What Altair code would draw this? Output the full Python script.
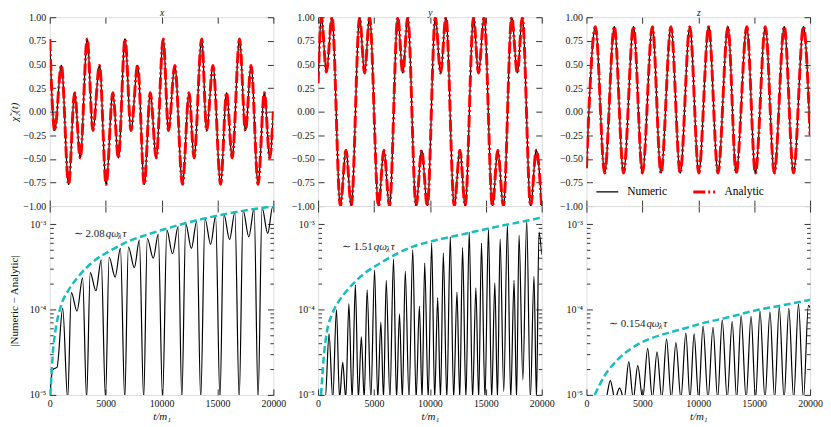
import altair as alt
import pandas as pd

FONT = "Liberation Serif"
W, H = 225, 190
FLOOR = 9e-6          # stands in for an exact zero (just below the visible log range)
CYAN = "#17BEBE"
SERIES = ["Numeric", "Analytic"]

TIME_TICKS = [0, 5000, 10000, 15000, 20000]
TOP_Y_TICKS = [-1.0, -0.75, -0.5, -0.25, 0.0, 0.25, 0.5, 0.75, 1.0]
LOG_MAJOR = [1e-5, 1e-4, 1e-3]
LOG_MINOR = [2e-5, 3e-5, 4e-5, 5e-5, 6e-5, 7e-5, 8e-5, 9e-5,
             2e-4, 3e-4, 4e-4, 5e-4, 6e-4, 7e-4, 8e-4, 9e-4]
COMPONENTS = ["x", "y", "z"]

# ---------------- top row: chi_2(t) (extrema) ----------------
X_TOP_T = [0, 445, 1038, 1691, 2225, 2730, 3353, 3857, 4451, 5044, 5637, 6142,
           6735, 7269, 7863, 8456, 8990, 9524, 10147, 10622, 11186, 11868, 12462, 12906,
           13589, 14034, 14598, 15280, 15814, 16319, 16971, 17505, 18010, 18633, 19196, 19671,
           20000]
X_TOP_V = [0.77, -0.20, 0.49, -0.77, 0.20, -0.49,
           0.77, -0.20, 0.49, -0.77, 0.20, -0.49,
           0.77, -0.20, 0.49, -0.77, 0.20, -0.49,
           0.77, -0.20, 0.49, -0.77, 0.20, -0.49,
           0.77, -0.20, 0.49, -0.77, 0.20, -0.49,
           0.77, -0.20, 0.49, -0.77, 0.20, -0.49,
           0.00]

Y_TOP_T = [0, 297, 743, 1247, 1990, 2495, 2970,
           3713, 4158, 4604, 5405, 5881, 6386,
           7128, 7574, 8019, 8762, 9266, 9771,
           10484, 10959, 11435, 12177, 12682, 13157,
           13900, 14345, 14850, 15593, 16068, 16573,
           17315, 17820, 18266, 19008, 19513, 20000]
Y_TOP_V = [0.30, 1.0, 0.42, 1.0, -1.0, -0.41, -1.0,
           1.0, 0.41, 1.0, -1.0, -0.41, -1.0,
           1.0, 0.41, 1.0, -1.0, -0.41, -1.0,
           1.0, 0.41, 1.0, -1.0, -0.41, -1.0,
           1.0, 0.41, 1.0, -1.0, -0.41, -1.0,
           1.0, 0.41, 1.0, -1.0, -0.41, -1.0]

Z_TOP_T = [0, 800, 1630, 2489, 3319, 4207, 5007, 5896, 6667, 7556, 8385, 9245,
           10045, 10933, 11763, 12652, 13393, 14341, 15111, 16000, 16800, 17689,
           18519, 19408, 20000]
Z_TOP_V = [-0.60, 0.90, -0.65, 0.90, -0.65, 0.90, -0.65, 0.90, -0.65, 0.90, -0.65, 0.90,
           -0.65, 0.90, -0.65, 0.90, -0.65, 0.90, -0.65, 0.90, -0.65, 0.90,
           -0.65, 0.90, -0.25]

# ---------------- bottom row: |Numeric - Analytic| (0 = exact zero) ----------------
X_BOT_T = [0, 270, 650, 1160, 1602, 1931, 2436, 2940, 3296, 3622, 4127, 4601, 4987,
           5313, 5847, 6322, 6708, 7034, 7568, 8013, 8399, 8725, 9259, 9704, 10090,
           10475, 10980, 11484, 11810, 12166, 12671, 13145, 13501, 13887, 14391, 14836, 15222,
           15578, 16082, 16557, 16943, 17299, 17803, 18278, 18634, 18990, 19494, 19939, 20000]
X_BOT_V = [0, 2.0e-5, 2.1e-5, 1.04e-4, 0, 1.58e-4, 9.6e-5, 2.35e-4, 0, 2.7e-4, 1.66e-4, 3.8e-4, 0,
           4.1e-4, 2.4e-4, 5.2e-4, 0, 5.4e-4, 3.1e-4, 6.5e-4, 0, 6.8e-4, 4.0e-4, 7.6e-4, 0,
           8.5e-4, 4.5e-4, 9.35e-4, 0, 1.0e-3, 5.2e-4, 1.09e-3, 0, 1.15e-3, 5.8e-4, 1.24e-3, 0,
           1.3e-3, 6.6e-4, 1.38e-3, 0, 1.44e-3, 7.1e-4, 1.52e-3, 0, 1.55e-3, 7.8e-4, 1.6e-3, 1.58e-3]
X_ENV_T = [62, 270, 507, 952, 1694, 2584, 4067, 5551, 7034, 8517, 10093, 12905, 15878, 20000]
X_ENV_V = [1.0e-5, 3.0e-5, 5.6e-5, 1.05e-4, 1.7e-4, 2.45e-4, 3.8e-4, 5.0e-4, 6.3e-4,
           7.4e-4, 8.6e-4, 1.09e-3, 1.33e-3, 1.62e-3]

Y_BOT_T = [0, 640, 980, 1310, 1639, 1920, 2201, 2477, 2753, 3042, 3332, 3600, 3867, 4125,
           4384, 4718, 5052, 5332, 5613, 5853, 6094, 6420, 6745, 7012, 7279, 7537, 7796, 8130,
           8465, 8763, 9061, 9297, 9534, 9845, 10157, 10424, 10692, 10946, 11200, 11512,
           11824, 12122, 12421, 12670, 12920, 13218, 13517, 13815, 14113, 14362, 14612, 14924,
           15236, 15521, 15806, 16042, 16279, 16604, 16929, 17227, 17526, 17748, 17971, 18314,
           18657, 18982, 19308, 19530, 19753, 20000]
Y_BOT_V = [0, 0, 5.2e-5, 0, 1.0e-4, 0, 2.4e-5, 0, 1.17e-4, 0, 1.95e-4, 0, 4.8e-5, 0,
           1.7e-4, 0, 2.9e-4, 0, 7.1e-5, 0, 2.2e-4, 0, 3.9e-4, 0, 8.9e-5, 0, 2.8e-4, 0,
           5.0e-4, 0, 1.1e-4, 0, 3.5e-4, 0, 6.0e-4, 0, 1.37e-4, 0, 4.6e-4, 0,
           7.1e-4, 0, 1.6e-4, 0, 5.3e-4, 0, 8.1e-4, 0, 1.8e-4, 0, 6.0e-4, 0,
           8.8e-4, 0, 2.05e-4, 0, 6.7e-4, 1.1e-5, 9.8e-4, 0, 2.2e-4, 0, 7.4e-4, 1.5e-5,
           1.1e-3, 0, 2.45e-4, 0, 8.1e-4, 4.4e-4]
Y_ENV_T = [267, 508, 802, 1247, 1844, 2584, 4072, 5560, 7039, 8527, 10157, 12920, 15895, 18863, 20000]
Y_ENV_V = [1.0e-5, 2.8e-5, 5.6e-5, 8.8e-5, 1.25e-4, 1.67e-4, 2.6e-4, 3.5e-4, 4.5e-4,
           5.5e-4, 6.3e-4, 7.6e-4, 9.3e-4, 1.11e-3, 1.2e-3]

Z_BOT_T = [0, 1720, 2134, 2547, 2960, 3374, 3787, 4187, 4587, 5032, 5476, 5894, 6312, 6739,
           7165, 7583, 8001, 8446, 8890, 9259, 9628, 10028, 10428, 10873, 11317, 11731,
           12144, 12589, 13033, 13433, 13833, 14278, 14722, 15122, 15522, 15967, 16411, 16829,
           17247, 17674, 18100, 18532, 18963, 19408, 19852, 20000]
Z_BOT_V = [0, 0, 1.47e-5, 0, 1.2e-5, 0, 2.44e-5, 0, 2.2e-5, 0, 3.5e-5, 0, 3.2e-5, 0,
           4.5e-5, 0, 4.1e-5, 0, 5.3e-5, 0, 5.2e-5, 0, 6.4e-5, 0, 6.2e-5, 0,
           7.5e-5, 0, 7.2e-5, 0, 8.5e-5, 0, 8.3e-5, 0, 9.6e-5, 0, 9.4e-5, 0,
           1.07e-4, 0, 1.03e-4, 0, 1.16e-4, 0, 1.12e-4, 1.05e-4]
Z_ENV_T = [738, 1627, 2810, 4294, 5779, 7254, 8739, 10366, 12500, 15000, 17500, 20000]
Z_ENV_V = [1.0e-5, 1.68e-5, 2.6e-5, 3.7e-5, 4.6e-5, 5.3e-5, 6.0e-5, 6.9e-5, 8.0e-5,
           9.7e-5, 1.12e-4, 1.3e-4]

# annotation anchors (t, value) and leading text of each fit label
ANN_T = [4957, 4936, 5316]
ANN_V = [7.67e-4, 5.47e-4, 6.7e-5]
ANN_LEAD = ["\u223c 2.08", "\u223c 1.51", "\u223c 0.154"]

# ---------------- helpers ----------------
xs = alt.Scale(domain=[0, 20000], nice=False)
ys_top = alt.Scale(domain=[-1, 1], nice=False)
ys_bot = alt.Scale(type="log", domain=[1e-5, 1.63e-3], nice=False)

MAJOR = {"expr": "-6"}
MINOR = {"expr": "-3.5"}
LOG_LABELS = ("datum.value < 5e-5 ? '10\u207b\u2075' : datum.value < 5e-4 ? "
              "'10\u207b\u2074' : '10\u207b\u00b3'")


def ax(**kw):
    base = dict(domain=False, grid=False, tickColor="black", tickWidth=0.8,
                tickSize=MAJOR, labelFont=FONT, labelFontSize=10, labelColor="#111",
                labelFlush=False, labelOverlap=False, labelPadding=10, title=None)
    base.update(kw)
    return alt.Axis(**base)


def ytitle(text, italic):
    return dict(title=text, titleFont=FONT, titleFontSize=11, titleFontWeight="normal",
                titleFontStyle="italic" if italic else "normal", titleColor="#111",
                titleX=-35, titleY=H / 2, titleAngle=270, titleBaseline="middle",
                titleAlign="center")


LEGEND = alt.Legend(orient="none", legendX=549, legendY=163, direction="horizontal",
                    title=None, symbolType="stroke", symbolSize=484, labelFont=FONT,
                    labelFontSize=11.5, labelColor="black", labelOffset=8,
                    columnPadding=19, padding=0)


def series_enc():
    return dict(
        color=alt.Color("series:N", scale=alt.Scale(domain=SERIES, range=["black", "red"]), legend=LEGEND),
        strokeDash=alt.StrokeDash("series:N", scale=alt.Scale(domain=SERIES, range=[[1, 0], [12, 3, 2, 3]]), legend=LEGEND),
        strokeWidth=alt.StrokeWidth("series:N", scale=alt.Scale(type="ordinal", domain=SERIES, range=[1.2, 3]), legend=LEGEND),
    )


def top_panel(name, ts, vs, first):
    df = pd.DataFrame({"t": ts, "v": vs})
    if first:
        left_axis = ax(values=TOP_Y_TICKS, format=".2f", **ytitle("\u03c7\u0303\u2082(t)", True))
    else:
        left_axis = ax(values=TOP_Y_TICKS, format=".2f")
    num = alt.Chart(df.assign(series="Numeric")).mark_line(interpolate="monotone", clip=True).encode(
        x=alt.X("t:Q", scale=xs, axis=ax(values=TIME_TICKS, labels=False)),
        y=alt.Y("v:Q", scale=ys_top, axis=left_axis),
        **series_enc())
    ana = alt.Chart(df.assign(series="Analytic")).mark_line(interpolate="monotone", clip=True).encode(
        x=alt.X("t:Q", scale=xs, axis=None),
        y=alt.Y("v:Q", scale=ys_top, axis=None),
        **series_enc())
    top_axis = ax(values=TIME_TICKS, labels=False, orient="top", title=name, titleFont=FONT,
                  titleFontSize=9.5, titleFontStyle="italic", titleFontWeight="normal",
                  titleColor="#111", titleX=W / 2, titleY=-5, titleBaseline="middle",
                  titleAlign="center")
    mirror = alt.Chart(df).mark_line(strokeOpacity=0).encode(
        x=alt.X("t:Q", scale=xs, axis=top_axis),
        y=alt.Y("v:Q", scale=ys_top, axis=ax(values=TOP_Y_TICKS, labels=False, orient="right")))
    return alt.layer(num, ana, mirror).resolve_axis(x="independent", y="independent").properties(
        width=W, height=H)


def bottom_panel(ts, vs, et, ev, k, first):
    df = pd.DataFrame({"t": ts, "v": [v if v > 0 else FLOOR for v in vs]})
    env = pd.DataFrame({"t": et, "v": ev})
    ann = pd.DataFrame({"t": [ANN_T[k]], "v": [ANN_V[k]]})
    if first:
        left_axis = ax(values=LOG_MAJOR, labelExpr=LOG_LABELS, **ytitle("|Numeric \u2212 Analytic|", False))
    else:
        left_axis = ax(values=LOG_MAJOR, labelExpr=LOG_LABELS)
    bottom_axis = ax(values=TIME_TICKS, format="d", title="t/m\u2081", titleFont=FONT,
                     titleFontSize=11, titleFontWeight="normal", titleFontStyle="italic",
                     titleColor="#111", titlePadding=2)
    line = alt.Chart(df).mark_line(interpolate="monotone", clip=True, color="black", strokeWidth=1.2).encode(
        x=alt.X("t:Q", scale=xs, axis=bottom_axis),
        y=alt.Y("v:Q", scale=ys_bot, axis=left_axis))
    fit = alt.Chart(env).mark_line(interpolate="monotone", clip=True, color=CYAN, strokeWidth=2.5,
                                   strokeDash=[7, 3.5]).encode(
        x=alt.X("t:Q", scale=xs, axis=None), y=alt.Y("v:Q", scale=ys_bot, axis=None))
    base = alt.Chart(ann).encode(x=alt.X("t:Q", scale=xs, axis=None), y=alt.Y("v:Q", scale=ys_bot, axis=None))
    t1 = base.mark_text(text=ANN_LEAD[k], align="right", baseline="middle", font=FONT, fontSize=11, color="#222", dx=-0.5)
    t2 = base.mark_text(text="q\u03c9", align="left", baseline="middle", font=FONT, fontSize=11, fontStyle="italic", color="#222", dx=0.5)
    t3 = base.mark_text(text="\u03bb", align="left", baseline="middle", font=FONT, fontSize=8, fontStyle="italic", color="#222", dx=13, dy=3)
    t4 = base.mark_text(text="\u03c4", align="left", baseline="middle", font=FONT, fontSize=11, fontStyle="italic", color="#222", dx=17.5)
    mirror = alt.Chart(df).mark_line(strokeOpacity=0).encode(
        x=alt.X("t:Q", scale=xs, axis=ax(values=TIME_TICKS, labels=False, orient="top")),
        y=alt.Y("v:Q", scale=ys_bot, axis=ax(values=LOG_MAJOR, labels=False, orient="right")))
    minor_l = alt.Chart(df).mark_line(strokeOpacity=0).encode(
        x=alt.X("t:Q", scale=xs, axis=None),
        y=alt.Y("v:Q", scale=ys_bot, axis=ax(values=LOG_MINOR, labels=False, tickSize=MINOR)))
    minor_r = alt.Chart(df).mark_line(strokeOpacity=0).encode(
        x=alt.X("t:Q", scale=xs, axis=None),
        y=alt.Y("v:Q", scale=ys_bot, axis=ax(values=LOG_MINOR, labels=False, tickSize=MINOR, orient="right")))
    return alt.layer(line, fit, t1, t2, t3, t4, mirror, minor_l, minor_r).resolve_axis(
        x="independent", y="independent").properties(width=W, height=H)


panels = [
    top_panel(COMPONENTS[0], X_TOP_T, X_TOP_V, True),
    top_panel(COMPONENTS[1], Y_TOP_T, Y_TOP_V, False),
    top_panel(COMPONENTS[2], Z_TOP_T, Z_TOP_V, False),
    bottom_panel(X_BOT_T, X_BOT_V, X_ENV_T, X_ENV_V, 0, True),
    bottom_panel(Y_BOT_T, Y_BOT_V, Y_ENV_T, Y_ENV_V, 1, False),
    bottom_panel(Z_BOT_T, Z_BOT_V, Z_ENV_T, Z_ENV_V, 2, False),
]

chart = alt.concat(*panels, columns=3, spacing={"row": 0, "column": 45}, bounds="flush").properties(
    padding={"left": 0, "top": -3, "right": 0, "bottom": 0}
).configure_view(stroke="black", strokeWidth=0.8).configure(font=FONT)

chart.save("out.html", embed_options={"renderer": "svg", "actions": False})
